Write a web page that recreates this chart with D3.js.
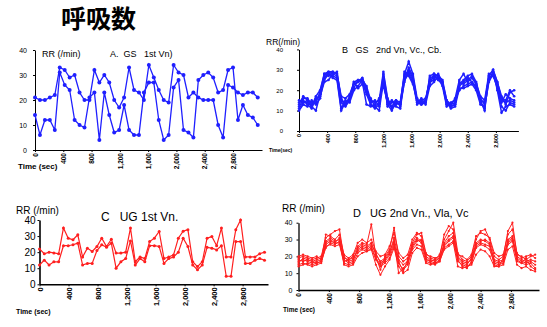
<!DOCTYPE html>
<html>
<head>
<meta charset="utf-8">
<script src="https://cdn.jsdelivr.net/npm/d3@7"></script>
<style>
body{margin:0;background:#fff;}
svg{display:block;font-family:"Liberation Sans",Arial,sans-serif;}
text{white-space:pre;}
</style>
</head>
<body>
<svg id="chart" width="547" height="327"></svg>
<script>
var yTicks = [0,10,20,30,40];
var xTicks = [0,400,800,1200,1600,2000,2400,2800];

// A  GS 1st Vn (2 players), sample every ~70 sec
var stepA = 70;
var a1 = [21,20,20,21,22,33,32,29,30,23,20,20,32,27,30,27,20,17,21,33,24,23,20,34,29,24,20,19,34,31,30,21,23,21,20,20,20,10,5,26,25,23,22,23,23,21];
var a2 = [14,6,12,12,8,31,26,24,12,10,9,21,23,4,23,14,7,8,18,8,6,6,23,27,27,12,4,6,25,28,8,7,5,28,30,31,29,23,24,32,33,12,18,14,13,10];

// B  GS 2nd Vn, Vc, Cb (6 players), every 60 sec
var stepB = 60;
var b1 = [15,14,15,12,17,20,28,29,29,28,16,13,17,24,25,25,22,15,14,15,29,16,12,15,14,28,34,28,16,13,14,27,28,27,25,15,12,13,23,25,27,28,24,16,13,27,30,24,16,15,20,17];
var b2 = [10,13,12,15,13,16,26,28,27,26,11,15,14,20,22,25,18,13,11,13,25,13,15,12,11,25,28,24,13,15,16,24,25,26,22,12,14,15,20,22,23,24,21,14,11,25,29,20,9,12,13,12];
var b3 = [14,16,16,13,14,19,28,27,29,28,17,16,18,23,24,26,21,14,15,12,28,15,11,13,14,27,30,26,15,14,14,26,27,25,24,13,13,16,25,28,24,26,23,17,15,28,27,23,14,18,16,15];
var b4 = [12,15,13,11,16,17,24,25,28,27,14,12,15,24,21,23,19,16,12,14,26,12,14,15,12,26,29,25,14,16,13,22,24,27,23,14,11,12,21,21,22,23,20,13,12,24,28,21,12,10,14,13];
var b5 = [13,17,15,14,15,18,27,29,28,29,15,13,16,21,25,24,13,12,13,16,22,14,12,14,13,29,27,23,15,14,15,25,26,28,24,15,13,14,22,24,26,24,22,15,14,26,27,22,15,14,15,14];
var b6 = [11,14,14,12,10,18,25,28,26,25,10,14,15,23,24,26,20,13,12,10,24,13,10,14,13,24,31,27,14,13,15,23,28,25,23,13,12,13,24,23,25,27,23,15,10,27,30,24,17,13,19,20];

// C  UG 1st Vn (2 players), every ~66 sec
var stepC = 66;
var c1 = [22,19,20,19.5,19,35,28.7,27.7,30.8,17,22.5,20.4,23.5,28.7,23.5,28,19.4,19.4,20,35,14,17,16,26.6,28.7,32.9,16,17,18.3,28.7,33,34,14,11,14,28.7,29.7,24,35,17,17,34,40,17,17,17,19,20];
var c2 = [12,15,12,14,14,24,24,24.6,25.6,12,13,13,21,24.6,23,25.6,10,14,16,27,12,16,14,24,24,23.5,13,16,17,20,28.7,23.5,12,9,12,23,22.5,21.4,24,5,5,26.6,26.6,13,13,15,16,15];

// D  UG 2nd Vn, Vla, Vc (7 players), every 60 sec
var stepD = 60;
var d1 = [15,16,15,14,15,16,26,27,26,27,16,15,16,22,24,23,25,18,14,16,19,27,16,12,15,24,27,26,17,16,15,17,25,27,29,17,15,14,16,25,27,26,24,16,15,16,27,29,18,16,15,16,13];
var d2 = [19,20,19,18,19,20,31,33,35,36,19,18,20,26,28,27,39,20,12,20,24,37,20,17,19,28,33,34,22,19,18,21,30,35,40,22,18,17,20,30,35,36,30,20,18,20,35,40,21,20,18,20,21];
var d3s = [17,18,17,16,17,18,28,30,28,31,20,17,18,24,26,25,27,22,16,18,22,31,18,15,17,26,30,28,20,18,17,19,27,30,32,20,17,16,18,28,30,29,27,18,17,18,30,32,20,18,17,18,17];
var d4 = [14,15,16,15,16,17,25,28,27,29,15,14,15,20,22,23,24,15,9,14,18,25,14,10,12,22,25,24,16,15,16,17,24,26,28,14,13,14,15,21,24,23,20,14,14,15,24,26,15,13,14,12,11];
var d5 = [20,21,20,19,20,18,33,32,30,33,21,19,21,28,30,28,30,23,20,21,26,34,22,19,21,30,34,32,21,20,19,20,33,38,36,21,20,18,21,32,34,33,31,22,20,21,33,36,22,19,20,21,19];
var d6 = [18,17,18,17,18,19,29,31,29,30,18,16,17,25,27,26,28,21,17,19,23,29,10,13,16,27,31,29,19,17,16,18,28,32,34,19,16,15,19,27,29,30,28,17,16,17,29,31,19,17,16,17,15];
var d7 = [16,19,18,17,16,17,27,29,28,28,17,18,19,23,25,24,26,19,15,17,21,28,17,11,18,25,29,30,18,17,18,19,26,29,31,18,14,13,17,26,28,27,26,15,14,19,28,30,17,16,19,14,12];

var blue = "#1f1fff";
var red = "#ff1f1f";

var drawPanel = function(p)
{
    var svg = d3.select("#chart");
    var g = svg.append("g");

    var xScale = d3.scaleLinear()
        .domain([0,p.xMax])
        .range([p.left,p.right]);
    var yScale = d3.scaleLinear()
        .domain([0,40])
        .range([p.bottom,p.top]);

    //x axis, labels turned on their side
    var xAxis = g.append("g")
        .attr("transform","translate(0,"+p.bottom+")")
        .call(d3.axisBottom(xScale)
            .tickValues(xTicks)
            .tickFormat(d3.format(","))
            .tickSize(2)
            .tickSizeOuter(0));
    xAxis.selectAll("text")
        .attr("transform","rotate(-90)")
        .attr("text-anchor","end")
        .attr("x",-3)
        .attr("y",0)
        .attr("dy","0.34em")
        .attr("font-size",p.xFont)
        .attr("font-weight","bold")
        .attr("font-family","Liberation Sans, Arial, sans-serif")
        .attr("fill","#000");

    var yAxis = g.append("g")
        .attr("transform","translate("+p.left+",0)")
        .call(d3.axisLeft(yScale)
            .tickValues(yTicks)
            .tickSize(2)
            .tickPadding(p.yPad)
            .tickSizeOuter(0));
    yAxis.selectAll("text")
        .attr("font-size",p.yFont)
        .attr("font-family","Liberation Sans, Arial, sans-serif")
        .attr("fill","#000");

    g.selectAll(".domain")
        .attr("stroke","#000")
        .attr("stroke-width",p.axisW);
    g.selectAll(".tick line")
        .attr("stroke","#000");

    //lines and points
    var line = d3.line()
        .x(function(d,i){ return xScale(i*p.step); })
        .y(function(d){ return yScale(d); });

    p.series.forEach(function(s)
    {
        g.append("path")
            .datum(s)
            .attr("fill","none")
            .attr("stroke",p.color)
            .attr("stroke-width",p.lineW)
            .attr("d",line);
        g.append("g")
            .selectAll("circle")
            .data(s)
            .enter()
            .append("circle")
            .attr("cx",function(d,i){ return xScale(i*p.step); })
            .attr("cy",function(d){ return yScale(d); })
            .attr("r",p.dot)
            .attr("fill",p.color);
    });

    //texts
    g.append("text")
        .attr("x",p.rr[0]).attr("y",p.rr[1])
        .attr("font-size",p.rr[2])
        .text(p.rrText);
    g.append("text")
        .attr("x",p.title[0]).attr("y",p.title[1])
        .attr("font-size",p.title[2])
        .text(p.titleText);
    g.append("text")
        .attr("x",p.time[0]).attr("y",p.time[1])
        .attr("font-size",p.time[2])
        .attr("font-weight","bold")
        .text(p.timeText);
}

d3.select("#chart").append("text")
    .attr("x",61).attr("y",28)
    .attr("font-size",25)
    .attr("font-weight","bold")
    .attr("font-family","Noto Sans CJK JP")
    .text("呼吸数");

drawPanel({
    left:35, right:262, top:50, bottom:150, xMax:3210,
    step:stepA, series:[a1,a2], color:blue, lineW:1.3, dot:2, axisW:1,
    xFont:6.5, yFont:7, yPad:6,
    rrText:"RR (/min)", rr:[42,57,9],
    titleText:"A.  GS   1st Vn)", title:[110,57,9],
    timeText:"Time (sec)", time:[18,169,8]
});

drawPanel({
    left:299, right:518.4, top:49.4, bottom:131, xMax:3120,
    step:stepB, series:[b1,b2,b3,b4,b5,b6], color:blue, lineW:1.5, dot:1.3, axisW:1,
    xFont:5.5, yFont:6, yPad:14,
    rrText:"RR(/min)", rr:[266,45,8.5],
    titleText:"B   GS   2nd Vn, Vc., Cb.", title:[342,53,9],
    timeText:"Time(sec)", time:[269,152,5]
});

drawPanel({
    left:39.5, right:268, top:220, bottom:284.3, xMax:3150,
    step:stepC, series:[c1,c2], color:red, lineW:1.2, dot:1.5, axisW:1.6,
    xFont:7.5, yFont:10, yPad:2,
    rrText:"RR (/min)", rr:[16,214,10],
    titleText:"C   UG 1st Vn.", title:[101,221,12],
    timeText:"Time (sec)", time:[16,314,7]
});

drawPanel({
    left:298.5, right:539, top:222.7, bottom:290, xMax:3170,
    step:stepD, series:[d1,d2,d3s,d4,d5,d6,d7], color:red, lineW:1, dot:1.1, axisW:1.3,
    xFont:6.5, yFont:7, yPad:4,
    rrText:"RR (/min)", rr:[282,212,10],
    titleText:"D   UG 2nd Vn., Vla, Vc", title:[353,217,11],
    timeText:"Time (sec)", time:[283,312,6.5]
});
</script>
</body>
</html>
